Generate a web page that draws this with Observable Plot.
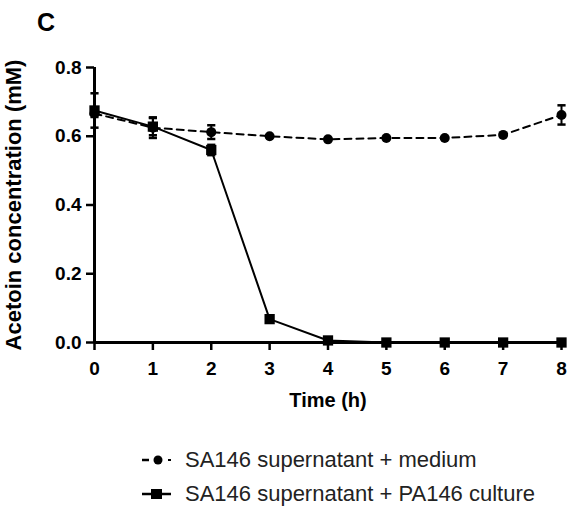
<!DOCTYPE html>
<html><head><meta charset="utf-8">
<script src="https://cdn.jsdelivr.net/npm/d3@7"></script>
<script src="https://cdn.jsdelivr.net/npm/@observablehq/plot@0.6"></script>
<style>
body{margin:0;background:#fff;font-family:"Liberation Sans",Arial,sans-serif;}
#wrap{position:relative;width:568px;height:515px;}
#panel{position:absolute;left:37px;top:8px;font-size:25px;font-weight:bold;line-height:1.15;}
#legend{position:absolute;left:141px;top:443px;font-size:22px;color:#222;}
.row{display:flex;align-items:center;height:34px;}
.row svg{margin-right:13px;}
</style></head>
<body><div id="wrap"><div id="chart"></div><div id="panel">C</div><div id="legend"></div></div>
<script>
const times = [0,1,2,3,4,5,6,7,8];
const seriesNames = ["SA146 supernatant + medium","SA146 supernatant + PA146 culture"];
const mediumMean = [0.666,0.625,0.612,0.600,0.591,0.595,0.595,0.604,0.662];
const mediumErr  = [0.010,0.030,0.020,0.004,0.004,0.004,0.004,0.004,0.028];
const cultureMean = [0.675,0.628,0.560,0.068,0.006,0.0,0.0,0.0,0.0];
const cultureErr  = [0.050,0.025,0.015,0.004,0.003,0.0,0.0,0.0,0.0];
const yTicks = [0,0.2,0.4,0.6,0.8];
const xTicks = [0,1,2,3,4,5,6,7,8];

const rows = [];
times.forEach((t,i)=>{
  rows.push({t, v: mediumMean[i], e: mediumErr[i], s: seriesNames[0]});
  rows.push({t, v: cultureMean[i], e: cultureErr[i], s: seriesNames[1]});
});
const med = rows.filter(d=>d.s===seriesNames[0]);
const cul = rows.filter(d=>d.s===seriesNames[1]);
const capW = 0.07;
const errRows = rows.filter(d=>d.e>0.005);
const fmtY = d3.format(".1f"), fmtX = d3.format("d");

const chart = Plot.plot({
  width: 568, height: 420,
  marginLeft: 94, marginRight: 7, marginTop: 67, marginBottom: 78,
  style: {fontFamily: "Liberation Sans, Arial, sans-serif", fontWeight: "bold", color: "black", background: "white"},
  x: {domain: [0,8]},
  y: {domain: [0,0.8]},
  marks: [
    Plot.axisY({ticks: yTicks, tickFormat: () => "", tickSize: 8, tickPadding: 5, strokeWidth: 2.5,
      label: "Acetoin concentration (mM)", labelAnchor: "center", labelArrow: "none", labelOffset: 89}),
    Plot.axisX({ticks: xTicks, tickFormat: () => "", tickSize: 8, tickPadding: 10, strokeWidth: 2.5,
      label: "Time (h)", labelAnchor: "center", labelArrow: "none", labelOffset: 64}),
    Plot.text(yTicks, {x: 0, y: d => d, text: d => fmtY(d), textAnchor: "end", dx: -13, fontSize: 19, fontWeight: "bold", fill: "black"}),
    Plot.text(xTicks, {x: d => d, y: 0, text: d => fmtX(d), lineAnchor: "top", dy: 19, fontSize: 19, fontWeight: "bold", fill: "black"}),
    Plot.ruleX([0], {y1: 0, y2: 0.8, strokeWidth: 3}),
    Plot.ruleY([0], {x1: 0, x2: 8, strokeWidth: 3}),
    Plot.line(med, {x: "t", y: "v", stroke: "black", strokeWidth: 2, strokeDasharray: "7,5"}),
    Plot.line(cul, {x: "t", y: "v", stroke: "black", strokeWidth: 2}),
    Plot.ruleX(errRows, {x: "t", y1: d=>d.v-d.e, y2: d=>d.v+d.e, strokeWidth: 2}),
    Plot.link(errRows, {x1: d=>d.t-capW, x2: d=>d.t+capW, y1: d=>d.v+d.e, y2: d=>d.v+d.e, strokeWidth: 2.5}),
    Plot.link(errRows, {x1: d=>d.t-capW, x2: d=>d.t+capW, y1: d=>d.v-d.e, y2: d=>d.v-d.e, strokeWidth: 2.5}),
    Plot.dot(cul, {x: "t", y: "v", symbol: "square", r: 5.8, fill: "black"}),
    Plot.dot(med, {x: "t", y: "v", symbol: "circle", r: 5, fill: "black"})
  ]
});
chart.querySelectorAll("g[aria-label='y-axis label'] text").forEach(t=>t.style.setProperty("font-size","22px"));
chart.querySelectorAll("g[aria-label='x-axis label'] text").forEach(t=>t.style.setProperty("font-size","20px"));
document.getElementById("chart").appendChild(chart);

const legend = document.getElementById("legend");
seriesNames.forEach((name,i)=>{
  const row = document.createElement("div"); row.className = "row";
  const sym = i===0
    ? `<svg width="31" height="14"><line x1="1" y1="7" x2="8" y2="7" stroke="black" stroke-width="2.5"/><circle cx="17" cy="7" r="4.5" fill="black"/><line x1="27" y1="7" x2="30" y2="7" stroke="black" stroke-width="2"/></svg>`
    : `<svg width="31" height="14"><line x1="1" y1="7" x2="30" y2="7" stroke="black" stroke-width="2.5"/><rect x="10" y="2" width="11" height="10" fill="black"/></svg>`;
  row.innerHTML = sym + `<span>${name}</span>`;
  legend.appendChild(row);
});
</script></body></html>
